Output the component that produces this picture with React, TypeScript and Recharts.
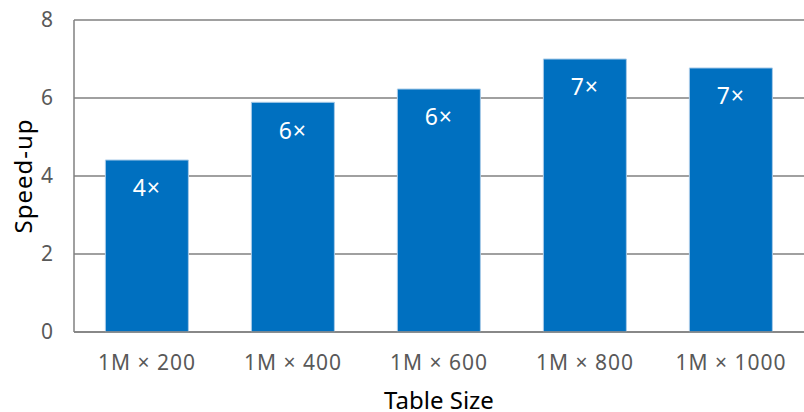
import React from "react";
import { BarChart, Bar, XAxis, YAxis, CartesianGrid, LabelList } from "recharts";

const categories = ["1M × 200", "1M × 400", "1M × 600", "1M × 800", "1M × 1000"];
const speedups = [4.41, 5.89, 6.23, 7.0, 6.77];
const barLabels = ["4×", "6×", "6×", "7×", "7×"];
const yTicks = [0, 2, 4, 6, 8];

const FONT = "'Noto Sans', sans-serif";

const YTitle = (props: any) => {
  const vb = props.viewBox || { x: 0, y: 0, width: 0, height: 0 };
  const cx = vb.x + 22;
  const cy = vb.y + vb.height / 2;
  return (
    <text
      x={cx}
      y={cy}
      transform={`rotate(-90, ${cx}, ${cy})`}
      textAnchor="middle"
      dominantBaseline="central"
      fill="#000"
      fontSize={24}
      letterSpacing={1}
      fontFamily={FONT}
    >
      Speed-up
    </text>
  );
};

const XTitle = (props: any) => {
  const vb = props.viewBox || { x: 0, y: 0, width: 0, height: 0 };
  return (
    <text
      x={vb.x + vb.width / 2}
      y={vb.y + 67}
      textAnchor="middle"
      dominantBaseline="central"
      fill="#000"
      fontSize={24}
      fontFamily={FONT}
    >
      Table Size
    </text>
  );
};

const App: React.FC = () => {
  const data = categories.map((name, i) => ({
    name,
    value: speedups[i],
    label: barLabels[i],
  }));

  return (
    <div style={{ position: "absolute", left: 0, top: 0, fontFamily: FONT }}>
      <BarChart
        width={804}
        height={412}
        data={data}
        margin={{ top: 20, right: 0, left: 0, bottom: 0 }}
        barCategoryGap="21.5%"
      >
        <CartesianGrid vertical={false} stroke="#808080" strokeWidth={1.5} />
        <XAxis
          dataKey="name"
          height={80}
          tickLine={false}
          tickSize={0}
          tickMargin={23}
          axisLine={{ stroke: "#808080", strokeWidth: 1.5 }}
          tick={{ fill: "#595959", fontSize: 21, letterSpacing: 1, fontFamily: FONT }}
          label={<XTitle />}
        />
        <YAxis
          width={74}
          domain={[0, 8]}
          ticks={yTicks}
          tickLine={false}
          tickSize={0}
          tickMargin={21}
          axisLine={{ stroke: "#808080", strokeWidth: 1.5 }}
          tick={{ fill: "#595959", fontSize: 21, fontFamily: FONT }}
          label={<YTitle />}
        />
        <Bar
          dataKey="value"
          fill="#0070c0"
          stroke="#a9cbe8"
          strokeWidth={1}
          isAnimationActive={false}
        >
          <LabelList
            dataKey="label"
            position="insideTop"
            offset={20}
            fill="#ffffff"
            fontSize={23}
            letterSpacing={1}
            fontFamily={FONT}
          />
        </Bar>
      </BarChart>
    </div>
  );
};

export default App;
